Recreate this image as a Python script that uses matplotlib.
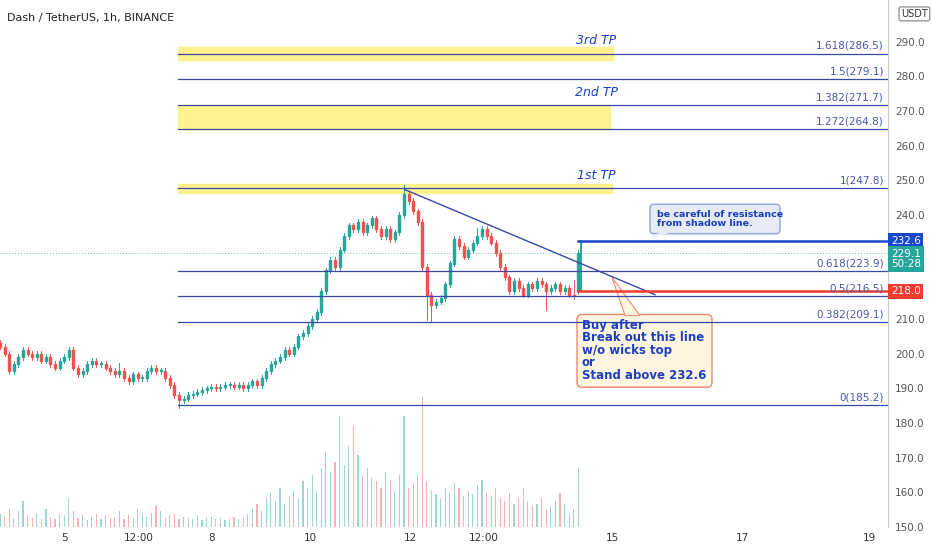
import matplotlib.pyplot as plt
from matplotlib.patches import Rectangle, FancyBboxPatch, Polygon

# closing prices, one per candle (approx. 2h each)
closes = [202, 200, 195, 197, 199, 201, 200, 199, 200, 198, 199, 197, 196, 198, 199, 201,
          196, 194, 195, 197, 198, 197, 197, 196, 195, 194, 195, 193, 192, 194, 193, 193,
          195, 196, 195, 195, 193, 191, 188, 186.5, 187, 188, 188.5, 189, 189.5, 190, 190.5, 190,
          190.5, 191, 191, 190.5, 191, 190, 191, 192, 191, 193, 195, 197, 198, 199, 201, 200,
          202, 205, 206, 208, 210, 212, 218, 224, 227, 225, 230, 234, 237, 236, 238, 235,
          237, 239, 236, 234, 236, 233, 235, 240, 246, 244, 241, 238, 225, 217, 214, 215,
          216, 220, 226, 233, 231, 228, 230, 232, 234, 236, 234, 232, 229, 225, 222, 218,
          221, 219, 217, 220, 219, 221, 220, 218, 219, 220, 218, 219, 217, 216.5, 229.1]
wicks_up = {88: 1.8, 104: 1.5, 125: 3.5, 26: 1.5}
wicks_dn = {93: 6.5, 94: 4, 119: 4.5, 39: 1.5}
volumes = [10, 8, 14, 6, 12, 20, 9, 7, 11, 6, 14, 8, 6, 10, 9, 22, 12, 7, 9, 5, 8, 10, 6, 9,
           7, 8, 12, 6, 9, 7, 14, 10, 8, 11, 16, 12, 7, 9, 10, 6, 8, 7, 6, 9, 5, 7, 8, 6,
           7, 5, 6, 8, 6, 7, 10, 14, 18, 12, 22, 26, 20, 30, 18, 24, 28, 22, 35, 30, 40, 28,
           45, 58, 42, 50, 85, 48, 62, 78, 55, 40, 45, 38, 35, 30, 42, 36, 28, 40, 85, 30,
           34, 40, 100, 35, 28, 25, 22, 30, 26, 34, 30, 24, 28, 25, 32, 36, 26, 24, 30, 22,
           20, 26, 18, 22, 30, 20, 16, 18, 22, 14, 16, 20, 26, 18, 10, 14, 45]

fib_levels = [0, 0.382, 0.5, 0.618, 1, 1.272, 1.382, 1.5, 1.618]
fib_prices = [185.2, 209.1, 216.5, 223.9, 247.8, 264.8, 271.7, 279.1, 286.5]
tp_labels = ["1st TP", "2nd TP", "3rd TP"]
tp_prices = [249.5, 273.5, 288.5]
y_ticks = [150, 160, 170, 180, 190, 200, 210, 240, 250, 260, 270, 280, 290]
x_ticks = [65, 139, 212, 310, 410, 484, 612, 742, 869]
x_labels = ["5", "12:00", "8", "10", "12", "12:00", "15", "17", "19"]

GREEN, RED = "#26a69a", "#ef5350"
BLUE = "#1a3fbf"
step = 4.59

fig = plt.figure(figsize=(9.32, 5.5), dpi=100)
ax = fig.add_axes([0, 23 / 550, 888 / 932, 1 - 23 / 550])
axv = ax.twinx()
ax.set_zorder(2)
ax.patch.set_visible(False)

# volume
for i, v in enumerate(volumes):
    o = closes[i - 1] if i > 0 else closes[0]
    axv.bar(i * step, v, width=1.2, color=GREEN if closes[i] >= o else RED, alpha=0.45)
axv.set_ylim(0, 405)
axv.axis("off")

# candles
for i, c in enumerate(closes):
    o = closes[i - 1] if i > 0 else c + 1
    if i == len(closes) - 1:
        o = 218
    col = GREEN if c >= o else RED
    hi = max(o, c) + 0.8 + wicks_up.get(i, 0)
    lo = min(o, c) - 0.8 - wicks_dn.get(i, 0)
    x = i * step
    ax.plot([x, x], [lo, hi], color=col, lw=0.7)
    ax.add_patch(Rectangle((x - 1.0, min(o, c)), 2.0, max(abs(c - o), 0.3), color=col))

# breakout candle
bx = len(closes) * step - 2
ax.plot([bx, bx], [218, 232.6], color=GREEN, lw=1.4)

# fib lines
for lvl, p in zip(fib_levels, fib_prices):
    ax.plot([178, 888], [p, p], color="#3848a8", lw=0.9)
    ax.text(884, p + 0.8, f"{lvl:g}({p})", ha="right", va="bottom", fontsize=7.5, color="#4a56a8")
# yellow bands
ax.add_patch(Rectangle((178, 246.4), 434, 2.6, color="#fff176", alpha=0.8, zorder=0))
ax.add_patch(Rectangle((178, 264.8), 432, 6.9, color="#fff176", alpha=0.8, zorder=0))
ax.add_patch(Rectangle((178, 284.6), 435, 3.8, color="#fff176", alpha=0.8, zorder=0))
for lbl, p in zip(tp_labels, tp_prices):
    ax.text(596, p, lbl, ha="center", va="bottom", fontsize=9, color="#1a3fbf", style="italic")

# trend line
ax.plot([405, 655], [247.3, 217], color="#3848a8", lw=1)
# key lines
ax.plot([578, 888], [232.6, 232.6], color="#1848cc", lw=1.8)
ax.plot([578, 888], [218, 218], color="#f23a2f", lw=1.8)
ax.axhline(229.1, color=GREEN, lw=0.7, ls=(0, (1, 2)), alpha=0.7)

# callouts
ax.add_patch(FancyBboxPatch((650, 234.6), 130, 8.5, boxstyle="round,pad=0,rounding_size=4",
                            fc="#e6ebf5", ec="#8fa5e0", lw=1, mutation_aspect=0.29))
ax.add_patch(Polygon([[660, 235], [672, 235], [648, 233.2]], fc="#e6ebf5", ec="none"))
ax.text(657, 238.8, "be careful of resistance\nfrom shadow line.", fontsize=6.8, color=BLUE,
        fontweight="bold", va="center", linespacing=1.0)
ax.add_patch(FancyBboxPatch((577, 190.3), 135, 21, boxstyle="round,pad=0,rounding_size=5",
                            fc="#fff5e1", ec="#f08a6e", lw=1, mutation_aspect=0.29))
ax.add_patch(Polygon([[625, 211], [640, 211], [612, 222]], fc="#fff5e1", ec="#f08a6e", lw=0.8))
ax.text(582, 201, "Buy after\nBreak out this line\nw/o wicks top\nor\nStand above 232.6",
        fontsize=8.5, color=BLUE, fontweight="bold", va="center", linespacing=0.95)

ax.set_xlim(0, 888)
ax.set_ylim(151.8, 302)
ax.set_xticks(x_ticks)
ax.set_xticklabels(x_labels, fontsize=7.5, color="#333")
ax.tick_params(axis="x", length=0, pad=4)
ax.yaxis.tick_right()
ax.set_yticks(y_ticks)
ax.set_yticklabels([f"{v}.0" for v in y_ticks], fontsize=7.5, color="#555")
ax.tick_params(axis="y", length=0, pad=5)
for s in ["top", "left", "bottom"]:
    ax.spines[s].set_visible(False)
ax.spines["right"].set_color("#ccc")

# price tags
for p, txt, col in [(232.6, "232.6", "#1848cc"), (229.1, "229.1\n50:28", GREEN), (218.0, "218.0", "#f23a2f")]:
    ax.text(891, p if p != 229.1 else 227.3, txt, fontsize=7.5, color="white", va="center",
            ha="left", clip_on=False, linespacing=1.1,
            bbox=dict(boxstyle="square,pad=0.25", fc=col, ec="none"))
ax.text(901, 298, "USDT", fontsize=7, color="#333", va="center", clip_on=False,
        bbox=dict(boxstyle="round,pad=0.2", fc="white", ec="#999"))

fig.text(0.008, 0.968, "Dash / TetherUS, 1h, BINANCE", fontsize=8, color="#222", va="center")
fig.savefig("out.png", dpi=100)
